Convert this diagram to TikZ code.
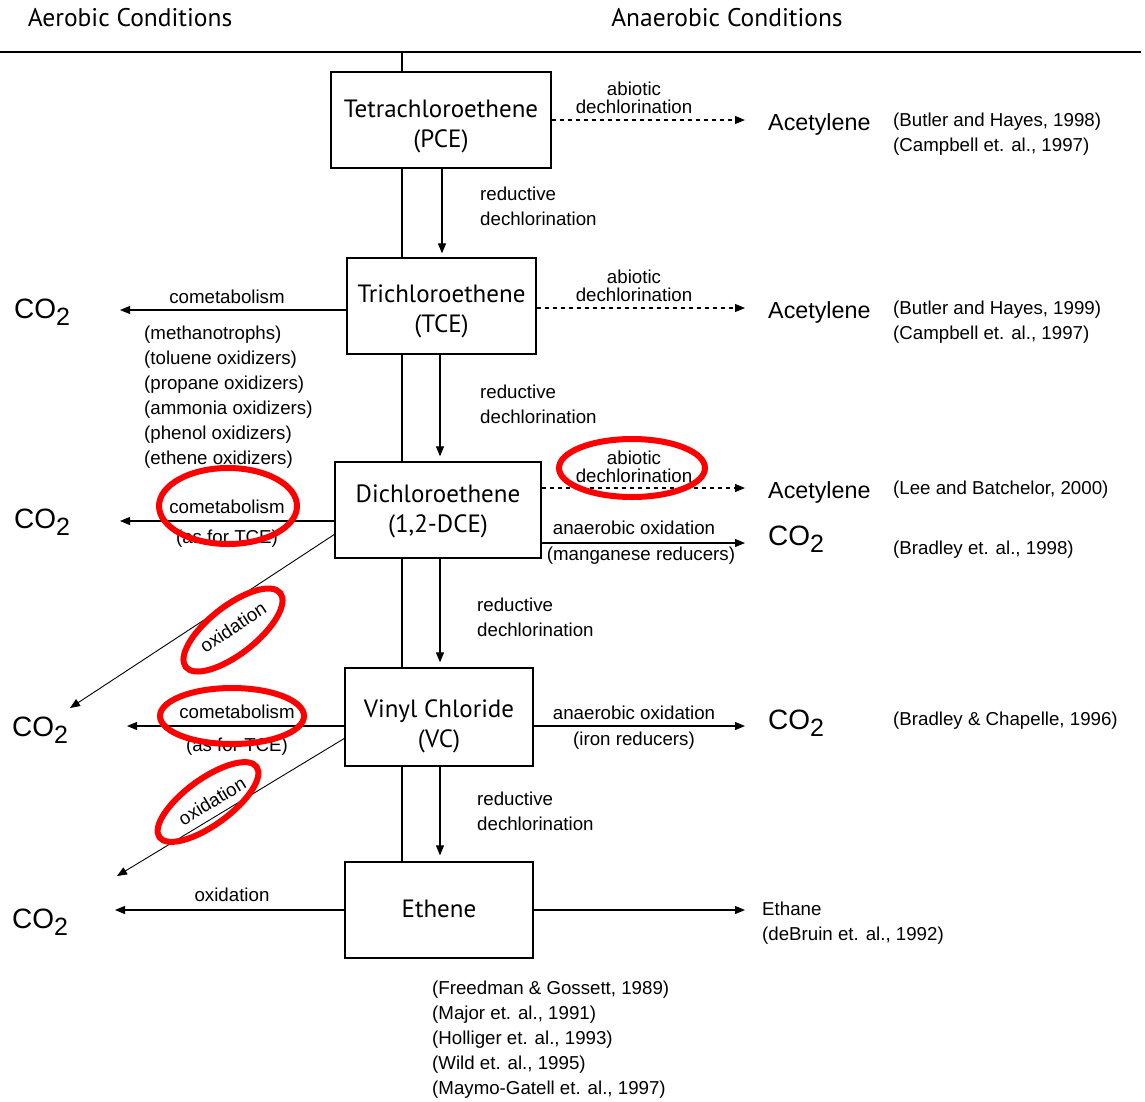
\documentclass[tikz,border=0pt]{standalone}
\usepackage{fontspec}
\setmainfont{Liberation Sans}
\newfontfamily\boxfont{PT Sans}
\usetikzlibrary{arrows.meta}
\begin{document}
\begin{tikzpicture}[x=1pt,y=-1pt,
  lbl/.style={font=\fontsize{18.7}{25}\selectfont, inner sep=0pt, align=center},
  lbltight/.style={font=\fontsize{18.7}{18}\selectfont, inner sep=0pt, align=center},
  ref/.style={font=\fontsize{18.7}{25}\selectfont, inner sep=0pt, align=left, anchor=west},
  prod/.style={font=\fontsize{23.3}{28}\selectfont, inner sep=0pt, anchor=west},
  co/.style={font=\fontsize{28}{30}\selectfont, inner sep=0pt, anchor=west},
  head/.style={font=\boxfont\fontsize{25.5}{28}\selectfont, inner sep=0pt},
  chem/.style={draw, line width=1.3pt, fill=white, font=\boxfont\fontsize{25}{30}\selectfont, align=center, inner sep=0pt},
  arr/.style={line width=1.1pt, -{Triangle[length=10pt,width=8pt]}},
  darr/.style={arr, dash pattern=on 4pt off 4pt},
  redmark/.style={draw=red, line width=6pt}
]
\useasboundingbox (0,0) rectangle (1145,1101);
\newcommand{\COtwo}{CO\raisebox{-0.25em}{\fontsize{25}{25}\selectfont 2}}
\newcommand{\boxtxt}[2]{\raisebox{-#1pt}[\height][\depth]{\begin{tabular}{@{}c@{}}#2\end{tabular}}}

% header
\node[head] (aer) at (130,18) {Aerobic Conditions};
\node[head] (anaer) at (727,18) {Anaerobic Conditions};
\draw[line width=2pt] (0,52) -- (1141,52);
\draw[line width=1.5pt] (402,52) -- (402,862);

% chemical boxes
\node[chem, minimum width=220pt, minimum height=96pt] (pce) at (441,120) {\boxtxt{6}{Tetrachloroethene\\(PCE)}};
\node[chem, minimum width=189pt, minimum height=96pt] (tce) at (441.5,306) {\boxtxt{5}{Trichloroethene\\(TCE)}};
\node[chem, minimum width=206pt, minimum height=96pt] (dce) at (438,510) {\boxtxt{1}{Dichloroethene\\(1,2-DCE)}};
\node[chem, minimum width=188pt, minimum height=98pt] (vc) at (439,717) {\boxtxt{9}{Vinyl Chloride\\(VC)}};
\node[chem, minimum width=188pt, minimum height=96pt] (eth) at (439,910) {\boxtxt{1}{Ethene}};

% reductive dechlorination
\draw[arr, shorten >=4pt] (pce.south -| 442,0) -- (tce.north -| 442,0);
\node[lbl, anchor=west, align=left] (rd1) at (480,206) {reductive\\dechlorination};
\draw[arr, shorten >=5pt] (tce.south -| 440,0) -- (dce.north -| 440,0);
\node[lbl, anchor=west, align=left] (rd2) at (480,404) {reductive\\dechlorination};
\draw[arr, shorten >=5pt] (dce.south -| 440,0) -- (vc.north -| 440,0);
\node[lbl, anchor=west, align=left] (rd3) at (477,617) {reductive\\dechlorination};
\draw[arr, shorten >=6pt] (vc.south -| 440,0) -- (eth.north -| 440,0);
\node[lbl, anchor=west, align=left] (rd4) at (477,811) {reductive\\dechlorination};

% right side products
\node[prod] (ac1) at (768,124) {Acetylene};
\node[prod] (ac2) at (768,312) {Acetylene};
\node[prod] (ac3) at (768,492) {Acetylene};
\node[co] (cor1) at (768,539) {\COtwo};
\node[co] (cor2) at (768,723) {\COtwo};
\node[ref] (ethane) at (762,923) {Ethane\\(deBruin et. al., 1992)};

\coordinate (r1) at (745,120);
\coordinate (r2) at (745,308);
\coordinate (r3) at (745,488);
\coordinate (r4) at (745,543);
\coordinate (r5) at (745,726);
\coordinate (r6) at (745,910);
\draw[darr] (pce.east |- r1) -- (r1);
\node[lbltight] (ab1) at (634,98) {abiotic\\dechlorination};
\draw[darr] (tce.east |- r2) -- (r2);
\node[lbltight] (ab2) at (634,286) {abiotic\\dechlorination};
\draw[darr] (dce.east |- r3) -- (r3);
\node[lbltight] (ab3) at (634,467) {abiotic\\dechlorination};
\draw[arr] (dce.east |- r4) -- (r4);
\node[lbl] (ao1) at (634,528) {anaerobic oxidation};
\node[lbl] (mn) at (641,556) {(manganese reducers)};
\draw[arr] (vc.east |- r5) -- (r5);
\node[lbl] (ao2) at (634,713) {anaerobic oxidation};
\node[lbl] (fe) at (634,741) {(iron reducers)};
\draw[arr] (eth.east |- r6) -- (r6);

% references right
\node[ref] (ref1) at (893,134) {(Butler and Hayes, 1998)\\(Campbell et. al., 1997)};
\node[ref] (ref2) at (893,322) {(Butler and Hayes, 1999)\\(Campbell et. al., 1997)};
\node[ref] (ref3) at (893,490) {(Lee and Batchelor, 2000)};
\node[ref] (ref4) at (893,550) {(Bradley et. al., 1998)};
\node[ref] (ref5) at (893,721) {(Bradley \& Chapelle, 1996)};

% left side
\node[co] (col1) at (14,312) {\COtwo};
\node[co] (col2) at (14,522) {\COtwo};
\node[co] (col3) at (12,730) {\COtwo};
\node[co] (col4) at (12,922) {\COtwo};
\coordinate (l1) at (120,310);
\coordinate (l2) at (120,521);
\coordinate (l3) at (127,726);
\coordinate (l4) at (115,910);
\coordinate (d1) at (70,708);
\coordinate (d2) at (117,876);

\draw[arr] (tce.west |- l1) -- (l1);
\node[lbl] (cm1) at (227,297) {cometabolism};
\node[ref] (list) at (144,397) {(methanotrophs)\\(toluene oxidizers)\\(propane oxidizers)\\(ammonia oxidizers)\\(phenol oxidizers)\\(ethene oxidizers)};

\draw[arr] (dce.west |- l2) -- (l2);
\node[lbl] (cm2) at (227,507) {cometabolism};
\node[lbl] (as1) at (227,539) {(as for TCE)};
\draw[arr, line width=0.9pt] (335,534) -- (d1);
\node[lbl, rotate=33.3] (ox1) at (233,627) {oxidation};

\draw[arr] (vc.west |- l3) -- (l3);
\node[lbl] (cm3) at (237,712) {cometabolism};
\node[lbl] (as2) at (237,747) {(as for TCE)};
\draw[arr, line width=0.9pt] (345,738) -- (d2);
\node[lbl, rotate=31.2] (ox2) at (212,801) {oxidation};

\draw[arr] (eth.west |- l4) -- (l4);
\node[lbl] (ox3) at (232,895) {oxidation};

% references bottom
\node[ref] (refb) at (432,1040) {(Freedman \& Gossett, 1989)\\(Major et. al., 1991)\\(Holliger et. al., 1993)\\(Wild et. al., 1995)\\(Maymo-Gatell et. al., 1997)};

% red highlight ellipses
\draw[redmark] (228,506) ellipse [x radius=69, y radius=38];
\draw[redmark, rotate around={38:(233,630)}] (233,630) ellipse [x radius=60, y radius=24];
\draw[redmark] (232,716) ellipse [x radius=72, y radius=28];
\draw[redmark, rotate around={36:(208,802)}] (208,802) ellipse [x radius=60, y radius=23];
\draw[redmark] (632,468) ellipse [x radius=73, y radius=29];
\end{tikzpicture}
\end{document}
